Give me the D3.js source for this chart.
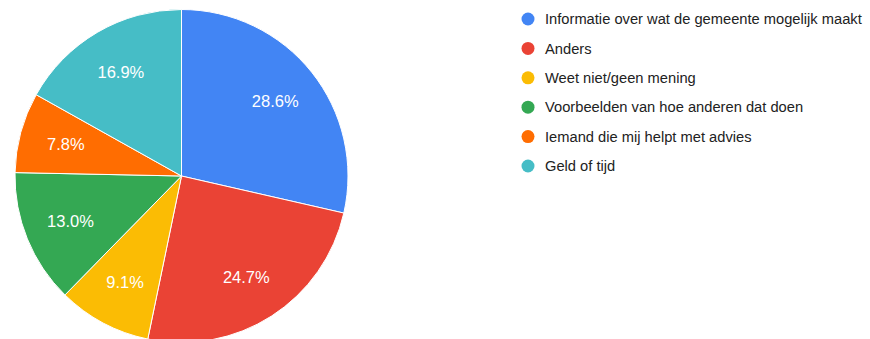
<!DOCTYPE html>
<html>
<head>
<meta charset="utf-8">
<script src="https://cdn.jsdelivr.net/npm/d3@7/dist/d3.min.js"></script>
<style>
  html, body { margin: 0; padding: 0; background: #fff; }
  svg { display: block; font-family: Arial, "Liberation Sans", sans-serif; }
</style>
</head>
<body>
<svg id="chart" width="870" height="339"></svg>
<script>
const categories = [
  "Informatie over wat de gemeente mogelijk maakt",
  "Anders",
  "Weet niet/geen mening",
  "Voorbeelden van hoe anderen dat doen",
  "Iemand die mij helpt met advies",
  "Geld of tijd"
];
const values = [28.6, 24.7, 9.1, 13.0, 7.8, 16.9];
const colors = ["#4285f4", "#ea4335", "#fbbc04", "#34a853", "#ff6d01", "#46bdc6"];

const svg = d3.select("#chart");
const cx = 181.5, cy = 176, r = 166.5;

const pie = d3.pie().sort(null).value(d => d.v);
const data = pie(categories.map((c, i) => ({ c, v: values[i], col: colors[i] })));
const arc = d3.arc().innerRadius(0).outerRadius(r);
const labelArc = d3.arc().innerRadius(r * 0.72).outerRadius(r * 0.72);

const g = svg.append("g").attr("transform", `translate(${cx},${cy})`);
g.selectAll("path").data(data).join("path")
  .attr("d", arc)
  .attr("fill", d => d.data.col)
  .attr("stroke", "#fff")
  .attr("stroke-width", 1);

g.selectAll("text").data(data).join("text")
  .attr("transform", d => `translate(${labelArc.centroid(d)})`)
  .attr("text-anchor", "middle")
  .attr("dy", "0.35em")
  .attr("fill", "#fff")
  .attr("font-size", 16.5)
  .text(d => d.data.v.toFixed(1) + "%");

const legend = svg.append("g").attr("transform", "translate(528,19)");
const rowH = 29.4;
const items = legend.selectAll("g").data(categories).join("g")
  .attr("transform", (d, i) => `translate(0,${i * rowH})`);
items.append("circle").attr("r", 6.5).attr("fill", (d, i) => colors[i]);
items.append("text")
  .attr("x", 17)
  .attr("dy", "0.35em")
  .attr("font-size", 14.7)
  .attr("fill", "#222")
  .text(d => d);
</script>
</body>
</html>
